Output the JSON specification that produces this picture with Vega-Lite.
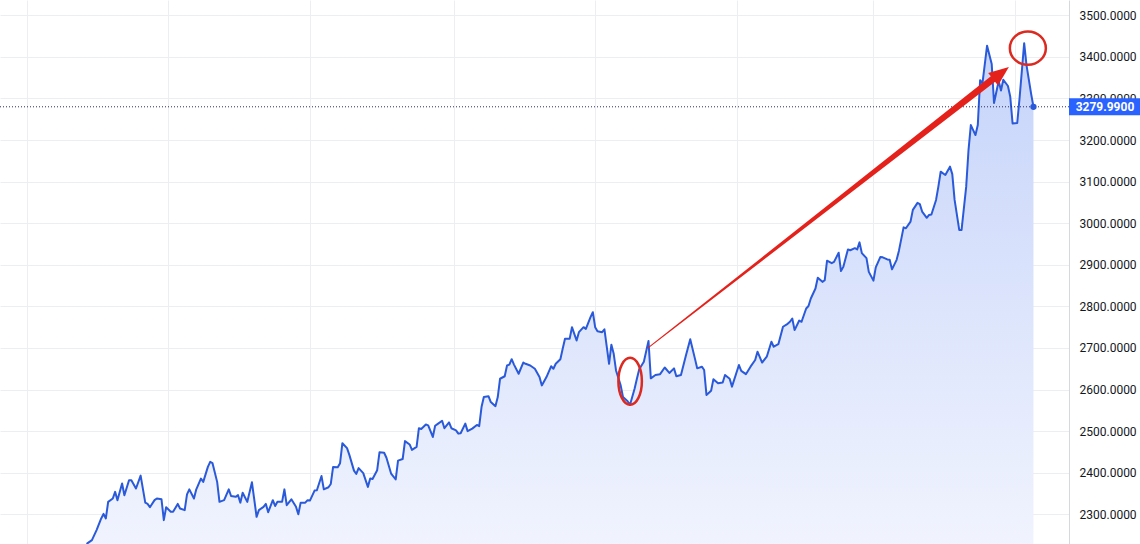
{
  "$schema": "https://vega.github.io/schema/vega-lite/v6.json",
  "width": 1069,
  "height": 544,
  "autosize": {"type": "none"},
  "padding": {"left": 0, "top": 0, "right": 71, "bottom": 0},
  "background": "#ffffff",
  "config": {"view": {"stroke": null}},
  "datasets": {
    "prices": [
      {"date":"2024-03-26","price":2209},{"date":"2024-03-27","price":2230},{"date":"2024-03-29","price":2238},{"date":"2024-03-31","price":2262},
      {"date":"2024-04-02","price":2290},{"date":"2024-04-03","price":2301},{"date":"2024-04-04","price":2290},{"date":"2024-04-05","price":2330},
      {"date":"2024-04-07","price":2338},{"date":"2024-04-08","price":2354},{"date":"2024-04-09","price":2334},{"date":"2024-04-11","price":2374},
      {"date":"2024-04-12","price":2346},{"date":"2024-04-14","price":2382},{"date":"2024-04-15","price":2382},{"date":"2024-04-17","price":2362},
      {"date":"2024-04-19","price":2393},{"date":"2024-04-21","price":2328},{"date":"2024-04-22","price":2325},{"date":"2024-04-23","price":2317},
      {"date":"2024-04-25","price":2334},{"date":"2024-04-26","price":2338},{"date":"2024-04-28","price":2336},{"date":"2024-04-29","price":2286},
      {"date":"2024-04-30","price":2317},{"date":"2024-05-02","price":2306},{"date":"2024-05-03","price":2306},{"date":"2024-05-05","price":2325},
      {"date":"2024-05-06","price":2314},{"date":"2024-05-08","price":2310},{"date":"2024-05-09","price":2348},{"date":"2024-05-10","price":2360},
      {"date":"2024-05-12","price":2338},{"date":"2024-05-13","price":2360},{"date":"2024-05-15","price":2386},{"date":"2024-05-16","price":2378},
      {"date":"2024-05-18","price":2414},{"date":"2024-05-19","price":2426},{"date":"2024-05-20","price":2423},{"date":"2024-05-22","price":2378},
      {"date":"2024-05-23","price":2330},{"date":"2024-05-25","price":2334},{"date":"2024-05-27","price":2360},{"date":"2024-05-28","price":2344},
      {"date":"2024-05-30","price":2342},{"date":"2024-05-31","price":2346},{"date":"2024-06-01","price":2328},{"date":"2024-06-02","price":2352},
      {"date":"2024-06-04","price":2330},{"date":"2024-06-06","price":2377},{"date":"2024-06-08","price":2294},{"date":"2024-06-09","price":2310},
      {"date":"2024-06-11","price":2318},{"date":"2024-06-12","price":2325},{"date":"2024-06-13","price":2305},{"date":"2024-06-15","price":2334},
      {"date":"2024-06-16","price":2320},{"date":"2024-06-17","price":2330},{"date":"2024-06-19","price":2330},{"date":"2024-06-20","price":2360},
      {"date":"2024-06-21","price":2322},{"date":"2024-06-23","price":2336},{"date":"2024-06-25","price":2318},{"date":"2024-06-26","price":2300},
      {"date":"2024-06-27","price":2328},{"date":"2024-06-29","price":2328},{"date":"2024-06-30","price":2334},{"date":"2024-07-01","price":2333},
      {"date":"2024-07-03","price":2357},{"date":"2024-07-04","price":2358},{"date":"2024-07-06","price":2392},{"date":"2024-07-07","price":2360},
      {"date":"2024-07-09","price":2365},{"date":"2024-07-10","price":2373},{"date":"2024-07-11","price":2414},{"date":"2024-07-13","price":2413},
      {"date":"2024-07-14","price":2423},{"date":"2024-07-15","price":2471},{"date":"2024-07-17","price":2459},{"date":"2024-07-18","price":2443},
      {"date":"2024-07-20","price":2405},{"date":"2024-07-21","price":2397},{"date":"2024-07-22","price":2411},{"date":"2024-07-24","price":2399},
      {"date":"2024-07-26","price":2366},{"date":"2024-07-27","price":2386},{"date":"2024-07-28","price":2385},{"date":"2024-07-30","price":2406},
      {"date":"2024-07-31","price":2449},{"date":"2024-08-02","price":2448},{"date":"2024-08-03","price":2436},{"date":"2024-08-05","price":2398},
      {"date":"2024-08-07","price":2384},{"date":"2024-08-08","price":2429},{"date":"2024-08-10","price":2433},{"date":"2024-08-11","price":2476},
      {"date":"2024-08-13","price":2468},{"date":"2024-08-14","price":2455},{"date":"2024-08-16","price":2462},{"date":"2024-08-17","price":2507},
      {"date":"2024-08-18","price":2505},{"date":"2024-08-20","price":2516},{"date":"2024-08-21","price":2514},{"date":"2024-08-23","price":2486},
      {"date":"2024-08-24","price":2513},{"date":"2024-08-25","price":2517},{"date":"2024-08-27","price":2525},{"date":"2024-08-28","price":2507},
      {"date":"2024-08-30","price":2521},{"date":"2024-08-31","price":2507},{"date":"2024-09-02","price":2502},{"date":"2024-09-03","price":2494},
      {"date":"2024-09-04","price":2495},{"date":"2024-09-06","price":2518},{"date":"2024-09-07","price":2500},{"date":"2024-09-09","price":2506},
      {"date":"2024-09-11","price":2515},{"date":"2024-09-12","price":2512},{"date":"2024-09-13","price":2558},{"date":"2024-09-14","price":2582},
      {"date":"2024-09-16","price":2584},{"date":"2024-09-17","price":2570},{"date":"2024-09-19","price":2560},{"date":"2024-09-20","price":2582},
      {"date":"2024-09-21","price":2626},{"date":"2024-09-23","price":2632},{"date":"2024-09-24","price":2658},{"date":"2024-09-25","price":2660},
      {"date":"2024-09-26","price":2673},{"date":"2024-09-27","price":2660},{"date":"2024-09-29","price":2638},{"date":"2024-10-01","price":2665},
      {"date":"2024-10-02","price":2662},{"date":"2024-10-04","price":2658},{"date":"2024-10-06","price":2650},{"date":"2024-10-08","price":2630},
      {"date":"2024-10-09","price":2610},{"date":"2024-10-11","price":2630},{"date":"2024-10-13","price":2656},{"date":"2024-10-14","price":2650},
      {"date":"2024-10-15","price":2662},{"date":"2024-10-17","price":2673},{"date":"2024-10-18","price":2698},{"date":"2024-10-19","price":2722},
      {"date":"2024-10-21","price":2722},{"date":"2024-10-22","price":2750},{"date":"2024-10-24","price":2718},{"date":"2024-10-25","price":2738},
      {"date":"2024-10-27","price":2750},{"date":"2024-10-28","price":2746},{"date":"2024-10-30","price":2774},{"date":"2024-10-31","price":2786},
      {"date":"2024-11-01","price":2750},{"date":"2024-11-02","price":2740},{"date":"2024-11-04","price":2738},{"date":"2024-11-05","price":2745},
      {"date":"2024-11-07","price":2662},{"date":"2024-11-08","price":2708},{"date":"2024-11-09","price":2686},{"date":"2024-11-10","price":2646},
      {"date":"2024-11-12","price":2610},{"date":"2024-11-13","price":2582},{"date":"2024-11-15","price":2572},{"date":"2024-11-16","price":2563},
      {"date":"2024-11-18","price":2602},{"date":"2024-11-19","price":2626},{"date":"2024-11-20","price":2649},{"date":"2024-11-22","price":2667},
      {"date":"2024-11-24","price":2717},{"date":"2024-11-25","price":2627},{"date":"2024-11-27","price":2635},{"date":"2024-11-29","price":2637},
      {"date":"2024-12-01","price":2653},{"date":"2024-12-03","price":2640},{"date":"2024-12-05","price":2651},{"date":"2024-12-06","price":2632},
      {"date":"2024-12-08","price":2635},{"date":"2024-12-10","price":2679},{"date":"2024-12-12","price":2721},{"date":"2024-12-14","price":2675},
      {"date":"2024-12-15","price":2651},{"date":"2024-12-17","price":2655},{"date":"2024-12-18","price":2647},{"date":"2024-12-19","price":2587},
      {"date":"2024-12-21","price":2597},{"date":"2024-12-22","price":2625},{"date":"2024-12-24","price":2615},{"date":"2024-12-26","price":2617},
      {"date":"2024-12-27","price":2635},{"date":"2024-12-29","price":2626},{"date":"2024-12-30","price":2607},{"date":"2025-01-02","price":2659},
      {"date":"2025-01-03","price":2645},{"date":"2025-01-05","price":2637},{"date":"2025-01-07","price":2655},{"date":"2025-01-09","price":2671},
      {"date":"2025-01-10","price":2691},{"date":"2025-01-12","price":2665},{"date":"2025-01-14","price":2679},{"date":"2025-01-16","price":2715},
      {"date":"2025-01-17","price":2703},{"date":"2025-01-19","price":2709},{"date":"2025-01-21","price":2751},{"date":"2025-01-23","price":2758},
      {"date":"2025-01-24","price":2763},{"date":"2025-01-25","price":2771},{"date":"2025-01-26","price":2743},{"date":"2025-01-28","price":2766},
      {"date":"2025-01-29","price":2763},{"date":"2025-01-31","price":2795},{"date":"2025-02-01","price":2801},{"date":"2025-02-02","price":2819},
      {"date":"2025-02-04","price":2843},{"date":"2025-02-05","price":2869},{"date":"2025-02-07","price":2859},{"date":"2025-02-08","price":2863},
      {"date":"2025-02-09","price":2910},{"date":"2025-02-11","price":2904},{"date":"2025-02-12","price":2907},{"date":"2025-02-14","price":2929},
      {"date":"2025-02-15","price":2885},{"date":"2025-02-16","price":2895},{"date":"2025-02-18","price":2937},{"date":"2025-02-19","price":2935},
      {"date":"2025-02-21","price":2940},{"date":"2025-02-22","price":2937},{"date":"2025-02-23","price":2954},{"date":"2025-02-24","price":2928},
      {"date":"2025-02-26","price":2916},{"date":"2025-02-27","price":2883},{"date":"2025-03-01","price":2862},{"date":"2025-03-02","price":2894},
      {"date":"2025-03-04","price":2919},{"date":"2025-03-05","price":2918},{"date":"2025-03-07","price":2913},{"date":"2025-03-08","price":2912},
      {"date":"2025-03-09","price":2889},{"date":"2025-03-11","price":2912},{"date":"2025-03-12","price":2934},{"date":"2025-03-14","price":2990},
      {"date":"2025-03-15","price":2988},{"date":"2025-03-17","price":3004},{"date":"2025-03-18","price":3032},{"date":"2025-03-20","price":3049},
      {"date":"2025-03-21","price":3046},{"date":"2025-03-22","price":3028},{"date":"2025-03-24","price":3013},{"date":"2025-03-25","price":3020},
      {"date":"2025-03-26","price":3021},{"date":"2025-03-28","price":3056},{"date":"2025-03-29","price":3088},{"date":"2025-03-30","price":3124},
      {"date":"2025-04-01","price":3116},{"date":"2025-04-03","price":3136},{"date":"2025-04-04","price":3118},{"date":"2025-04-05","price":3056},
      {"date":"2025-04-07","price":2984},{"date":"2025-04-08","price":2984},{"date":"2025-04-10","price":3088},{"date":"2025-04-11","price":3176},
      {"date":"2025-04-12","price":3236},{"date":"2025-04-14","price":3212},{"date":"2025-04-15","price":3236},{"date":"2025-04-16","price":3344},
      {"date":"2025-04-17","price":3336},{"date":"2025-04-19","price":3427},{"date":"2025-04-21","price":3383},{"date":"2025-04-22","price":3289},
      {"date":"2025-04-24","price":3342},{"date":"2025-04-25","price":3319},{"date":"2025-04-26","price":3345},{"date":"2025-04-28","price":3330},
      {"date":"2025-04-29","price":3304},{"date":"2025-04-30","price":3240},{"date":"2025-05-02","price":3241},{"date":"2025-05-03","price":3300},
      {"date":"2025-05-05","price":3433},{"date":"2025-05-06","price":3380},{"date":"2025-05-08","price":3311},{"date":"2025-05-09","price":3279.99}
    ],
    "last": [{"date":"2025-05-09","price":3279.99}],
    "arrow": [
      {"date":"2024-11-23T19:12:00Z","price":2700,"t":0},
      {"date":"2025-04-22T19:00:00Z","price":3352,"t":1}
    ],
    "arrowhead": [{"date":"2025-04-25T00:00:00Z","price":3361}],
    "circleLow": [{"date":"2024-11-16T02:00:00Z","price":2620}],
    "circleHigh": [{"date":"2025-05-06T14:00:00Z","price":3421}]
  },
  "encoding": {
    "x": {
      "field": "date",
      "type": "temporal",
      "scale": {
        "type": "utc",
        "domain": [
          {"year": 2024, "month": 2, "date": 18, "hours": 8, "minutes": 36, "utc": true},
          {"year": 2025, "month": 5, "date": 24, "hours": 7, "minutes": 55, "utc": true}
        ]
      },
      "axis": {
        "title": null,
        "labels": false,
        "ticks": false,
        "domain": false,
        "grid": true,
        "gridColor": "#eceef2",
        "values": [
          {"year": 2024, "month": 3, "date": 1, "utc": true},
          {"year": 2024, "month": 5, "date": 1, "utc": true},
          {"year": 2024, "month": 7, "date": 1, "utc": true},
          {"year": 2024, "month": 9, "date": 1, "utc": true},
          {"year": 2024, "month": 11, "date": 1, "utc": true},
          {"year": 2025, "month": 1, "date": 1, "utc": true},
          {"year": 2025, "month": 3, "date": 1, "utc": true},
          {"year": 2025, "month": 5, "date": 1, "utc": true}
        ]
      }
    },
    "y": {
      "field": "price",
      "type": "quantitative",
      "scale": {"domain": [2228.6, 3536.8], "zero": false, "nice": false},
      "axis": {
        "orient": "right",
        "title": null,
        "values": [2300, 2400, 2500, 2600, 2700, 2800, 2900, 3000, 3100, 3200, 3300, 3400, 3500],
        "format": ".4f",
        "labelFont": "Roboto",
        "labelFontSize": 12,
        "labelColor": "#131722",
        "labelPadding": 10,
        "ticks": false,
        "domain": true,
        "domainColor": "#d6d8de",
        "grid": true,
        "gridColor": "#eceef2",
        "labelOverlap": false
      }
    }
  },
  "layer": [
    {
      "data": {"name": "prices"},
      "mark": {
        "type": "area",
        "clip": true,
        "opacity": 1,
        "color": {
          "gradient": "linear", "x1": 0, "y1": 0, "x2": 0, "y2": 1,
          "stops": [
            {"offset": 0, "color": "#c6d4fa"},
            {"offset": 1, "color": "#f1f4fe"}
          ]
        }
      },
      "encoding": {
        "y2": {"datum": 2228.6}
      }
    },
    {
      "data": {"name": "prices"},
      "mark": {"type": "line", "clip": true, "color": "#2a5ada", "strokeWidth": 2, "strokeJoin": "round"}
    },
    {
      "data": {"name": "last"},
      "mark": {"type": "rule", "color": "#2b2f5c", "strokeDash": [1, 2], "strokeWidth": 1},
      "encoding": {"x": null, "y": {"field": "price", "type": "quantitative"}}
    },
    {
      "data": {"name": "last"},
      "mark": {"type": "point", "filled": true, "color": "#2a5ada", "size": 40, "opacity": 1}
    },
    {
      "data": {"name": "arrow"},
      "mark": {"type": "trail", "color": "#e4221b", "clip": true},
      "encoding": {
        "size": {"field": "t", "type": "quantitative", "scale": {"domain": [0, 1], "range": [1, 7]}, "legend": null}
      }
    },
    {
      "data": {"name": "arrowhead"},
      "mark": {"type": "point", "shape": "M 1 0 L -1 -0.8 L -1 0.8 Z", "size": 400, "angle": -37.9, "filled": true, "color": "#e4221b", "opacity": 1}
    },
    {
      "data": {"name": "circleLow"},
      "mark": {"type": "point", "shape": "M -0.5 0 A 0.5 1 0 1 1 0.5 0 A 0.5 1 0 1 1 -0.5 0 Z", "size": 2209, "filled": false, "stroke": "#dc2a20", "strokeWidth": 2.5, "opacity": 1}
    },
    {
      "data": {"name": "circleHigh"},
      "mark": {"type": "point", "shape": "M -1 0 A 1 0.925 0 1 1 1 0 A 1 0.925 0 1 1 -1 0 Z", "size": 1296, "filled": false, "stroke": "#dc2a20", "strokeWidth": 2.5, "opacity": 1}
    },
    {
      "data": {"name": "last"},
      "mark": {"type": "point", "shape": "M -1 -0.24 L 1 -0.24 L 1 0.24 L -1 0.24 Z", "size": 5041, "filled": true, "color": "#2962ff", "opacity": 1, "xOffset": 35.5},
      "encoding": {
        "x": {"datum": {"year": 2025, "month": 5, "date": 24, "hours": 7, "minutes": 55, "utc": true}, "type": "temporal"}
      }
    },
    {
      "data": {"name": "last"},
      "mark": {"type": "text", "color": "#ffffff", "font": "Roboto", "fontSize": 12, "fontWeight": "bold", "align": "center", "baseline": "middle", "xOffset": 36},
      "encoding": {
        "x": {"datum": {"year": 2025, "month": 5, "date": 24, "hours": 7, "minutes": 55, "utc": true}, "type": "temporal"},
        "text": {"field": "price", "type": "quantitative", "format": ".4f"}
      }
    }
  ]
}
